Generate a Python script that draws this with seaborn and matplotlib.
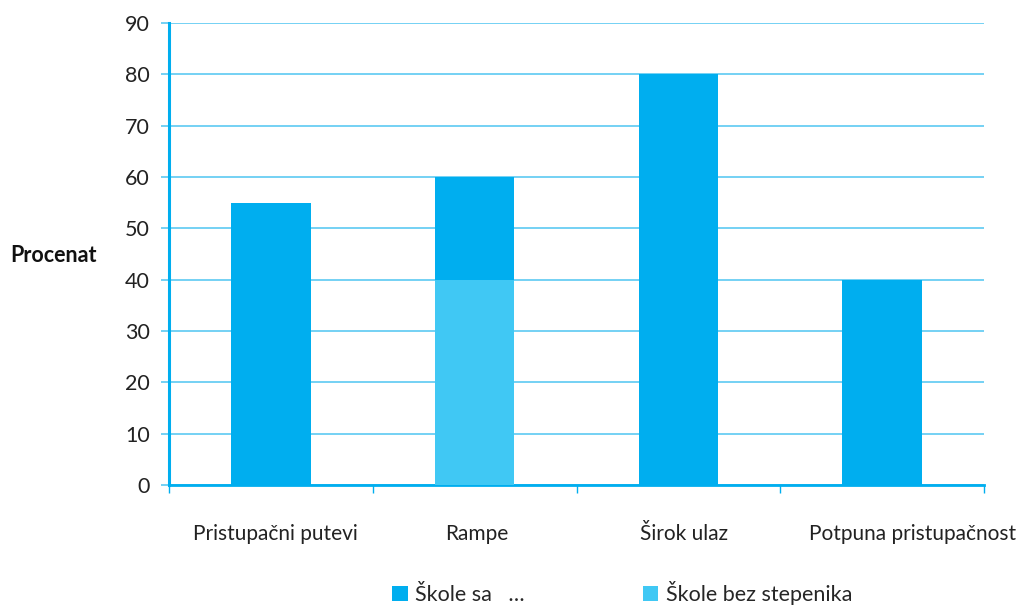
import numpy as np
import pandas as pd
import matplotlib.pyplot as plt
import matplotlib.transforms as mtransforms
import seaborn as sns
from matplotlib.patches import Patch

categories = ["Pristupačni putevi", "Rampe", "Širok ulaz", "Potpuna pristupačnost"]
skole_sa = [55, 20, 80, 40]
skole_bez = [0, 40, 0, 0]
series_names = ["Škole sa   …", "Škole bez stepenika"]
y_ticks = [0, 10, 20, 30, 40, 50, 60, 70, 80, 90]

dark = "#00AEEF"
light = "#40C8F4"
grid_col = "#5CC9F2"

sns.set_style("white")
plt.rcParams['font.family'] = ['Lato', 'DejaVu Sans']

df = pd.DataFrame({"kat": categories,
                   "sa": skole_sa,
                   "bez": skole_bez})
df["ukupno"] = df["sa"] + df["bez"]

fig = plt.figure(figsize=(10.2, 6.08), dpi=100)
ax = fig.add_axes([0.1657, 0.2023, 0.799, 0.76])

# stacked: total in dark, bottom part in light drawn on top
sns.barplot(x="kat", y="ukupno", data=df, color=dark, width=0.39,
            saturation=1, ax=ax, zorder=3, linewidth=0)
sns.barplot(x="kat", y="bez", data=df, color=light, width=0.39,
            saturation=1, ax=ax, zorder=3, linewidth=0)

ax.set_ylim(0, 90)
ax.set_xlim(-0.5, 3.5)
ax.set_yticks(y_ticks)
ax.set_yticklabels([str(t) for t in y_ticks], fontsize=15.5, color="#222222")
ax.tick_params(axis="y", length=6, width=1.2, color=grid_col, pad=8, left=True)
ax.yaxis.grid(True, color=grid_col, linewidth=1.2, zorder=0)
ax.set_axisbelow(True)

# category boundaries as ticks, names as minor tick labels
ax.set_xticks([-0.5, 0.5, 1.5, 2.5, 3.5])
ax.set_xticklabels([])
ax.set_xticks(range(len(categories)), minor=True)
ax.set_xticklabels(categories, minor=True, fontsize=15, color="#222222")
ax.tick_params(axis="x", which="major", length=6, width=1, color=dark,
               bottom=True, direction="out")
ax.tick_params(axis="x", which="minor", length=0, pad=28)

# labels sit a bit right of centre, the last one more so
shifts = [4, 2, 6, 30]
for lab, dx in zip(ax.get_xticklabels(minor=True), shifts):
    lab.set_transform(lab.get_transform() +
                      mtransforms.ScaledTranslation(dx / 100, 0, fig.dpi_scale_trans))

for s in ["top", "right"]:
    ax.spines[s].set_visible(False)
ax.spines["left"].set_color(dark)
ax.spines["left"].set_linewidth(2.2)
ax.spines["bottom"].set_color(dark)
ax.spines["bottom"].set_linewidth(2)
ax.set_xlabel("")
ax.set_ylabel("")

fig.text(0.01, (608 - 256) / 608, "Procenat", fontsize=15.5, fontweight="bold",
         va="center", ha="left", color="#111111")

handles = [Patch(facecolor=dark, edgecolor="none"),
           Patch(facecolor=light, edgecolor="none")]
fig.legend(handles, series_names, loc="lower center", ncol=2,
           bbox_to_anchor=(0.61, -0.027), frameon=False, fontsize=15.5,
           handlelength=0.7, handleheight=0.7, handletextpad=0.35,
           columnspacing=5.5)

fig.savefig("out.png", dpi=100)
